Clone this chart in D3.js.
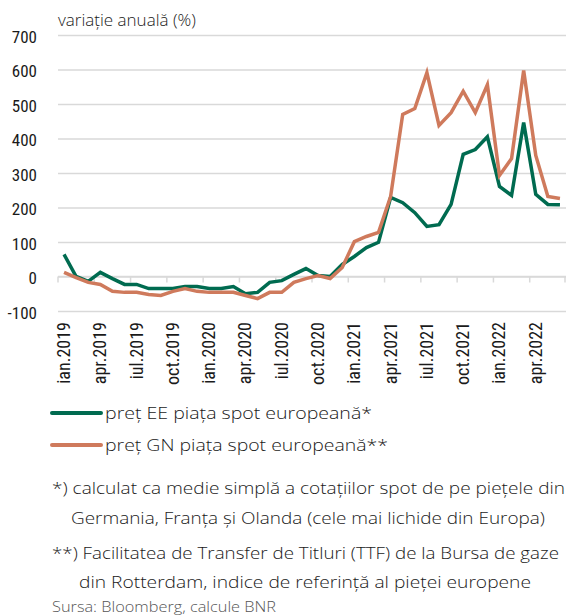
<!DOCTYPE html>
<html>
<head>
<meta charset="utf-8">
<script src="https://cdn.jsdelivr.net/npm/d3@7"></script>
<style>
  body { margin: 0; background: #fff; }
  svg { display: block; }
  .axis text { font-family: "Liberation Sans Narrow", "Roboto", sans-serif; font-stretch: condensed; font-size: 17px; fill: #1a1a1a; }
  .note { font-family: "Open Sans", "Noto Sans", sans-serif; font-size: 16px; fill: #1a1a1a; font-weight: 300; }
</style>
</head>
<body>
<div id="chart"></div>
<script>
////////////////////////////  Data  ////////////////////////////
const monthNames = ["ian", "feb", "mar", "apr", "mai", "iun", "iul", "aug", "sep", "oct", "nov", "dec"];
const years = [2019, 2020, 2021, 2022];
const months = [];
years.forEach((y) => monthNames.forEach((m) => months.push(m + "." + y)));
months.splice(42); // ian.2019 ... iun.2022

// pret EE piata spot europeana (variatie anuala, %)
const eeValues = [
  64, 0, -14, 12, -6, -23, -23, -35, -35, -35, -29, -29,
  -35, -35, -29, -50, -46, -17, -12, 6, 23, 3, 0, 35,
  58, 84, 99, 229, 214, 185, 145, 150, 209, 354, 368, 405,
  261, 235, 446, 238, 209, 208
];
// pret GN piata spot europeana (variatie anuala, %)
const gnValues = [
  12, -3, -17, -23, -43, -46, -46, -52, -55, -43, -35, -43,
  -46, -46, -46, -55, -64, -46, -46, -17, -6, 3, -6, 26,
  101, 116, 128, 232, 470, 487, 591, 438, 475, 537, 475, 556,
  293, 342, 597, 351, 232, 226
];
const yTicks = [-100, 0, 100, 200, 300, 400, 500, 600, 700];
const xLabelMonths = ["ian", "apr", "iul", "oct"];

const seriesNames = ["preț EE piața spot europeană*", "preț GN piața spot europeană**"];
const colors = ["#006b50", "#cf7a5c"];

////////////////////////////  Init  ////////////////////////////
const width = 567;
const height = 615;
const margin = { top: 35, right: 1, bottom: 304, left: 58 };

const svg = d3.select("#chart").append("svg")
  .attr("width", width)
  .attr("height", height);

const xScale = d3.scaleBand()
  .domain(months)
  .range([margin.left, width - margin.right]);
const yScale = d3.scaleLinear()
  .domain([-100, 700])
  .range([height - margin.bottom, margin.top]);
const cx = (m) => xScale(m) + xScale.bandwidth() / 2;

// y axis + grid
const yAxis = d3.axisLeft(yScale)
  .tickValues(yTicks)
  .tickSize(-(width - margin.left - margin.right))
  .tickPadding(21)
  .tickFormat((d) => String(d));

const gy = svg.append("g")
  .attr("class", "axis y-axis")
  .attr("transform", `translate(${margin.left},0)`)
  .call(yAxis);
gy.select(".domain").remove();
gy.selectAll("line").attr("stroke", "#d9d9d9").attr("stroke-width", 1.5);
gy.selectAll("text").attr("dy", "0.42em");

// x axis on the zero line, ticks between quarters
const quarterStarts = months.filter((m, i) => i % 3 === 0);
const gx = svg.append("g").attr("class", "axis x-axis");
gx.append("line")
  .attr("x1", margin.left).attr("x2", width - margin.right)
  .attr("y1", yScale(0)).attr("y2", yScale(0))
  .attr("stroke", "#d9d9d9").attr("stroke-width", 1.5);
gx.selectAll(".qtick")
  .data(quarterStarts.map((m) => xScale(m)).concat([xScale.range()[1] - 1]))
  .join("line")
  .attr("class", "qtick")
  .attr("x1", (d) => d).attr("x2", (d) => d)
  .attr("y1", yScale(0)).attr("y2", yScale(0) + 6)
  .attr("stroke", "#d9d9d9").attr("stroke-width", 1.5);

gx.selectAll(".xlabel")
  .data(months.filter((m) => xLabelMonths.includes(m.split(".")[0])))
  .join("text")
  .attr("class", "xlabel")
  .attr("text-anchor", "end")
  .style("font-size", "18px")
  .attr("transform", (d) => `translate(${cx(d) + 6},${yScale(-100) + 11}) rotate(-90)`)
  .text((d) => d);

// title
svg.append("text")
  .attr("class", "note")
  .attr("x", margin.left)
  .attr("y", 26)
  .style("font-size", "17px")
  .text("variație anuală (%)");

// lines
const line = d3.line()
  .x((d, i) => cx(months[i]))
  .y((d) => yScale(d));

[eeValues, gnValues].forEach((vals, k) => {
  svg.append("path")
    .datum(vals)
    .attr("d", line)
    .attr("fill", "none")
    .attr("stroke", colors[k])
    .attr("stroke-width", 3.5)
    .attr("stroke-linejoin", "miter");
});

////////////////////////////  Legend & notes  ////////////////////////////
const legend = svg.append("g");
seriesNames.forEach((name, k) => {
  const y = 413 + k * 32;
  legend.append("line")
    .attr("x1", 52).attr("x2", 101)
    .attr("y1", y).attr("y2", y)
    .attr("stroke", colors[k])
    .attr("stroke-width", 4)
    .attr("stroke-linecap", "round");
  legend.append("text")
    .attr("class", "note")
    .attr("x", 105)
    .attr("y", y + 6)
    .attr("textLength", k === 0 ? 267 : 283)
    .attr("lengthAdjust", "spacingAndGlyphs")
    .text(name);
});

const notes = [
  { t: "*) calculat ca medie simplă a cotațiilor spot de pe piețele din", x: 52, y: 494, w: 513 },
  { t: "Germania, Franța și Olanda (cele mai lichide din Europa)", x: 71, y: 524, w: 474 },
  { t: "**) Facilitatea de Transfer de Titluri (TTF) de la Bursa de gaze", x: 52, y: 559, w: 507 },
  { t: "din Rotterdam, indice de referință al pieței europene", x: 79, y: 588, w: 452 }
];
notes.forEach((n) => {
  svg.append("text")
    .attr("class", "note")
    .attr("x", n.x)
    .attr("y", n.y)
    .style("font-size", "17px")
    .attr("textLength", n.w)
    .attr("lengthAdjust", "spacingAndGlyphs")
    .text(n.t);
});

svg.append("text")
  .attr("class", "note")
  .attr("x", 52)
  .attr("y", 612)
  .style("font-size", "14px")
  .style("fill", "#555")
  .attr("textLength", 224)
  .attr("lengthAdjust", "spacingAndGlyphs")
  .text("Sursa: Bloomberg, calcule BNR");
</script>
</body>
</html>
